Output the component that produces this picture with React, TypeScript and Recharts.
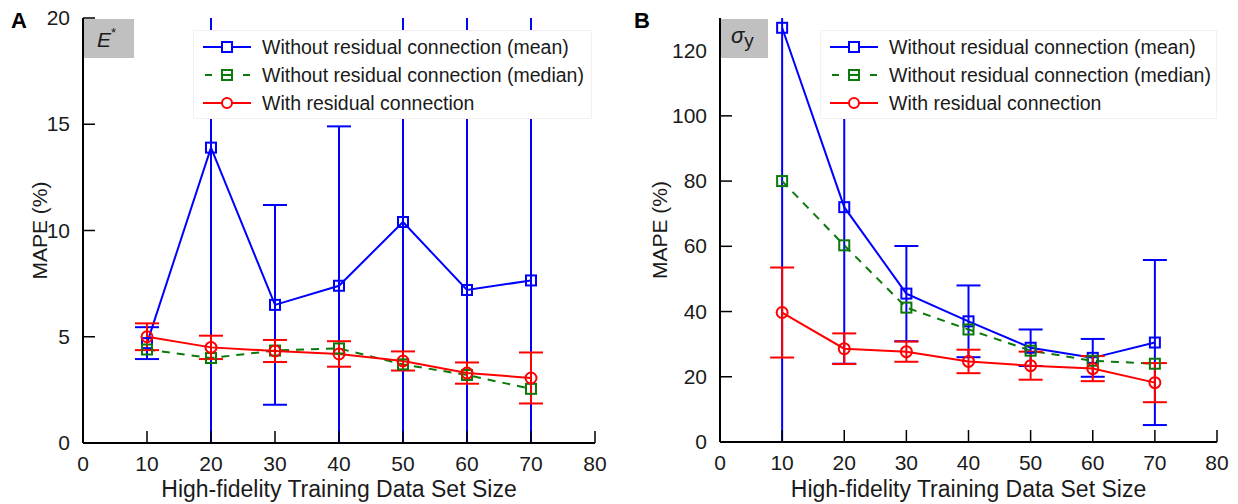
import React from 'react'
import { ComposedChart, Line, XAxis, YAxis, ErrorBar, Legend } from 'recharts'

// x positions (training set size)
const sizes = [10, 20, 30, 40, 50, 60, 70]
const xTicks = [0, 10, 20, 30, 40, 50, 60, 70, 80]

// Panel A: E*
const eMeanNoRes = [4.7, 13.9, 6.5, 7.4, 10.4, 7.2, 7.65]
const eStdNoRes = [0.75, 15, 4.7, 7.5, 12, 14, 13]
const eMedianNoRes = [4.4, 4.0, 4.35, 4.45, 3.7, 3.2, 2.55]
const eWithRes = [5.0, 4.5, 4.33, 4.19, 3.86, 3.29, 3.06]
const eStdWithRes = [0.63, 0.55, 0.52, 0.6, 0.45, 0.5, 1.2]
const eTicks = [0, 5, 10, 15, 20]

// Panel B: sigma_y
const sMeanNoRes = [127, 72, 45.5, 37, 28.9, 25.8, 30.5]
const sStdNoRes = [135, 48, 14.6, 11, 5.6, 5.8, 25.3]
const sMedianNoRes = [80, 60.3, 41.2, 34.5, 28, 24.9, 24]
const sWithRes = [39.7, 28.6, 27.7, 24.7, 23.4, 22.5, 18.2]
const sStdWithRes = [13.8, 4.7, 3.1, 3.6, 4.3, 3.85, 6]
const sTicks = [0, 20, 40, 60, 80, 100, 120]

const seriesNames = [
  'Without residual connection (mean)',
  'Without residual connection (median)',
  'With residual connection',
]

const FONT = '"Liberation Sans", Arial, Helvetica, sans-serif'
const BLUE = '#0000ff'
const GREEN = '#0b7a0b'
const RED = '#ff0000'
const INK = '#1a1a1a'
const TICK_LEN = 12
const TOP = 18
const HEIGHT = 504

const buildRows = (mean: number[], std: number[], median: number[], res: number[], resStd: number[]) =>
  sizes.map((size, i) => ({
    size,
    mean: mean[i],
    meanErr: std[i],
    median: median[i],
    res: res[i],
    resErr: resStd[i],
  }))

const rowsA = buildRows(eMeanNoRes, eStdNoRes, eMedianNoRes, eWithRes, eStdWithRes)
const rowsB = buildRows(sMeanNoRes, sStdNoRes, sMedianNoRes, sWithRes, sStdWithRes)

const squareDot = (color: string) => (props: any) => {
  const { cx, cy, index } = props
  if (cx == null || cy == null) return <g key={index} />
  return <rect key={index} x={cx - 5} y={cy - 5} width={10} height={10} fill="none" stroke={color} strokeWidth={2} />
}

const circleDot = (color: string) => (props: any) => {
  const { cx, cy, index } = props
  if (cx == null || cy == null) return <g key={index} />
  return <circle key={index} cx={cx} cy={cy} r={5.5} fill="none" stroke={color} strokeWidth={2} />
}

/* axis ticks drawn inward, gnuplot style */
const BottomTick = (props: any) => {
  const { x, y, payload } = props
  return (
    <g>
      <line x1={x} y1={y} x2={x} y2={y - TICK_LEN} stroke="#000" strokeWidth={1.5} />
      <text x={x} y={y + 28} textAnchor="middle" fontSize={21} fill={INK}>{payload.value}</text>
    </g>
  )
}
const TopTick = (props: any) => {
  const { x, y } = props
  return <line x1={x} y1={y} x2={x} y2={y + TICK_LEN} stroke="#000" strokeWidth={1.5} />
}
const LeftTick = (props: any) => {
  const { x, y, payload } = props
  return (
    <g>
      <line x1={x} y1={y} x2={x + TICK_LEN} y2={y} stroke="#000" strokeWidth={1.5} />
      <text x={x - 13} y={y + 7} textAnchor="end" fontSize={21} fill={INK}>{payload.value}</text>
    </g>
  )
}
const RightTick = (props: any) => {
  const { x, y } = props
  return <line x1={x} y1={y} x2={x - TICK_LEN} y2={y} stroke="#000" strokeWidth={1.5} />
}

function LegendIcon({ kind }: { kind: number }) {
  if (kind === 0) return (
    <svg width={48} height={14}>
      <line x1={0} y1={7} x2={48} y2={7} stroke={BLUE} strokeWidth={2} />
      <rect x={19} y={2} width={10} height={10} fill="#fff" stroke={BLUE} strokeWidth={2} />
    </svg>
  )
  if (kind === 1) return (
    <svg width={48} height={14}>
      <line x1={0} y1={7} x2={48} y2={7} stroke={GREEN} strokeWidth={2} strokeDasharray="7 12" strokeDashoffset={-2} />
      <rect x={19} y={2} width={10} height={10} fill="none" stroke={GREEN} strokeWidth={2} />
      <line x1={20} y1={7} x2={28} y2={7} stroke={GREEN} strokeWidth={2} />
    </svg>
  )
  return (
    <svg width={48} height={14}>
      <line x1={0} y1={7} x2={48} y2={7} stroke={RED} strokeWidth={2} />
      <circle cx={24} cy={7} r={5} fill="#fff" stroke={RED} strokeWidth={2} />
    </svg>
  )
}

function LegendBox() {
  return (
    <div style={{ background: '#fff', border: '1px solid #f2f2f2', padding: '2px 0 1px 9px', boxSizing: 'border-box' }}>
      {seriesNames.map((name, i) => (
        <div key={name} style={{ display: 'flex', alignItems: 'center', height: 28 }}>
          <LegendIcon kind={i} />
          <span style={{ marginLeft: 11, fontSize: 19.5, color: INK, whiteSpace: 'nowrap' }}>{name}</span>
        </div>
      ))}
    </div>
  )
}

interface PanelProps {
  id: string
  rows: any[]
  width: number
  yMax: number
  yTicks: number[]
  left: number
  right: number
  bottom: number
  legendLeft: number
  legendWidth: number
  yLabelDx: number
}

function Panel({ id, rows, width, yMax, yTicks, left, right, bottom, legendLeft, legendWidth, yLabelDx }: PanelProps) {
  const clip = `url(#clip-${id})`
  return (
    <ComposedChart
      width={width}
      height={HEIGHT}
      data={rows}
      margin={{ top: TOP, right, bottom: 0, left: 0 }}
    >
      <defs>
        <clipPath id={`clip-${id}`}>
          <rect x={left} y={TOP} width={width - left - right} height={HEIGHT - TOP - bottom} />
        </clipPath>
      </defs>
      <XAxis
        dataKey="size"
        type="number"
        domain={[0, 80]}
        ticks={xTicks}
        interval={0}
        height={bottom}
        tickSize={0}
        tickMargin={0}
        tick={<BottomTick />}
        tickLine={false}
        axisLine={{ stroke: '#000', strokeWidth: 2 }}
        label={{ value: 'High-fidelity Training Data Set Size', position: 'insideBottom', offset: 7, fontSize: 23, fill: INK }}
      />
      <XAxis
        xAxisId="top"
        orientation="top"
        type="number"
        domain={[0, 80]}
        ticks={xTicks}
        interval={0}
        height={0}
        tickSize={0}
        tickMargin={0}
        tick={<TopTick />}
        tickLine={false}
        axisLine={{ stroke: '#000', strokeWidth: 2 }}
      />
      <YAxis
        type="number"
        domain={[0, yMax]}
        ticks={yTicks}
        interval={0}
        allowDataOverflow
        width={left}
        tickSize={0}
        tickMargin={0}
        tick={<LeftTick />}
        tickLine={false}
        axisLine={{ stroke: '#000', strokeWidth: 2 }}
        label={{ value: 'MAPE (%)', angle: -90, position: 'center', dx: yLabelDx, fontSize: 21, fill: INK }}
      />
      <YAxis
        yAxisId="r"
        orientation="right"
        type="number"
        domain={[0, yMax]}
        ticks={yTicks}
        interval={0}
        allowDataOverflow
        width={0}
        tickSize={0}
        tickMargin={0}
        tick={<RightTick />}
        tickLine={false}
        axisLine={{ stroke: '#000', strokeWidth: 2 }}
      />

      <Line dataKey="mean" stroke={BLUE} strokeWidth={2} dot={squareDot(BLUE)} activeDot={false} isAnimationActive={false}>
        <ErrorBar dataKey="meanErr" direction="y" width={12} stroke={BLUE} strokeWidth={2} clipPath={clip} isAnimationActive={false} />
      </Line>
      <Line dataKey="median" stroke={GREEN} strokeWidth={2} strokeDasharray="8 7" dot={squareDot(GREEN)} activeDot={false} isAnimationActive={false} />
      <Line dataKey="res" stroke={RED} strokeWidth={2} dot={circleDot(RED)} activeDot={false} isAnimationActive={false}>
        <ErrorBar dataKey="resErr" direction="y" width={12} stroke={RED} strokeWidth={2} clipPath={clip} isAnimationActive={false} />
      </Line>

      <Legend
        layout="horizontal"
        verticalAlign="middle"
        align="center"
        content={<LegendBox />}
        wrapperStyle={{ left: legendLeft, top: 30, width: legendWidth, height: 85 }}
      />
    </ComposedChart>
  )
}

export default function App() {
  return (
    <div style={{ position: 'absolute', left: 0, top: 0, width: 1238, height: HEIGHT, background: '#fff', fontFamily: FONT }}>
      <div style={{ position: 'absolute', left: 0, top: 0 }}>
        <Panel id="a" rows={rowsA} width={619} yMax={20} yTicks={eTicks} left={83} right={24} bottom={61}
          legendLeft={193} legendWidth={399} yLabelDx={-2} />
      </div>
      <div style={{ position: 'absolute', left: 620, top: 0 }}>
        <Panel id="b" rows={rowsB} width={618} yMax={130} yTicks={sTicks} left={100} right={21} bottom={62}
          legendLeft={200} legendWidth={397} yLabelDx={-10} />
      </div>
      <svg width={1238} height={HEIGHT} style={{ position: 'absolute', left: 0, top: 0, pointerEvents: 'none' }}>
        <text x={11} y={28} fontSize={22} fontWeight="bold" fill="#000">A</text>
        <text x={634} y={28} fontSize={22} fontWeight="bold" fill="#000">B</text>
        <rect x={84} y={19} width={50} height={39} fill="#c0c0c0" />
        <text x={97} y={47} fontSize={21} fontStyle="italic" fill={INK}>
          E<tspan dy={-10} fontSize={13} fontStyle="normal">*</tspan>
        </text>
        <rect x={721} y={19} width={47} height={39} fill="#c0c0c0" />
        <text x={731} y={43} fontSize={22} fontStyle="italic" fill={INK}>
          σ<tspan dy={4} fontSize={19} fontStyle="normal">y</tspan>
        </text>
      </svg>
    </div>
  )
}
